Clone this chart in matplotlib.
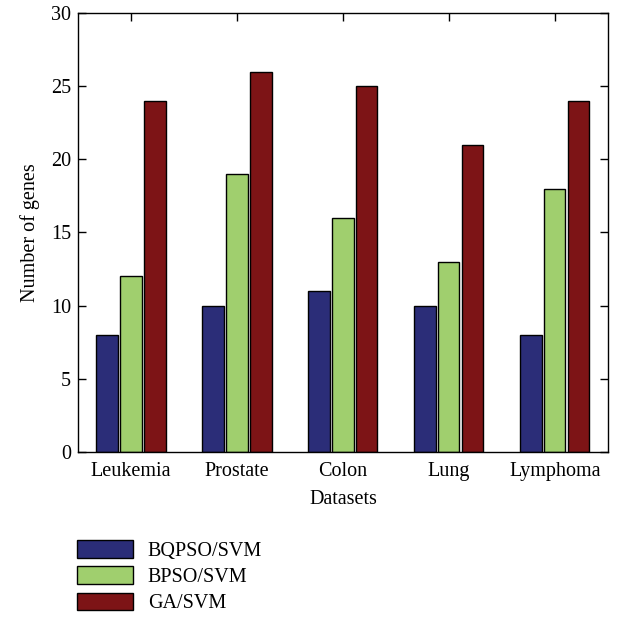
import numpy as np
import matplotlib
matplotlib.use("Agg")
import matplotlib.pyplot as plt

# Data
datasets = ["Leukemia", "Prostate", "Colon", "Lung", "Lymphoma"]
bqpso_svm = [8, 10, 11, 10, 8]
bpso_svm = [12, 19, 16, 13, 18]
ga_svm = [24, 26, 25, 21, 24]
series_names = ["BQPSO/SVM", "BPSO/SVM", "GA/SVM"]
y_ticks = [0, 5, 10, 15, 20, 25, 30]

colors = ["#2B2D78", "#A0CF6E", "#7D1416"]

plt.rcParams['font.family'] = ['Liberation Serif', 'DejaVu Serif']
plt.rcParams['font.size'] = 14.5

fig = plt.figure(figsize=(6.19, 6.18), dpi=100)
ax = fig.add_axes([0.126, 0.2686, 0.856, 0.7104])

x = np.arange(len(datasets))
width = 0.2
offset = 0.226
bars = []
for i, (vals, name) in enumerate(zip([bqpso_svm, bpso_svm, ga_svm], series_names)):
    b = ax.bar(x + (i - 1) * offset, vals, width, color=colors[i],
               edgecolor="black", linewidth=1.0, label=name)
    bars.append(b)

ax.set_xlim(-0.5, len(datasets) - 0.5)
ax.set_ylim(0, 30)
ax.set_yticks(y_ticks)
ax.set_xticks(x)
ax.set_xticklabels(datasets)
ax.tick_params(axis='y', direction='in', right=True, length=6, width=1, pad=5)
ax.tick_params(axis='x', direction='in', bottom=False, top=True, length=6, width=1, pad=7)
for s in ax.spines.values():
    s.set_linewidth(1.0)

ax.set_xlabel("Datasets", labelpad=7)
ax.set_ylabel("Number of genes", labelpad=8)

fig.legend(handles=bars, labels=series_names, loc="upper left",
           bbox_to_anchor=(0.112, 0.139), frameon=False,
           handlelength=2.75, handleheight=0.95, labelspacing=0.28,
           handletextpad=0.75, borderaxespad=0)

fig.savefig("out.png", dpi=100)
